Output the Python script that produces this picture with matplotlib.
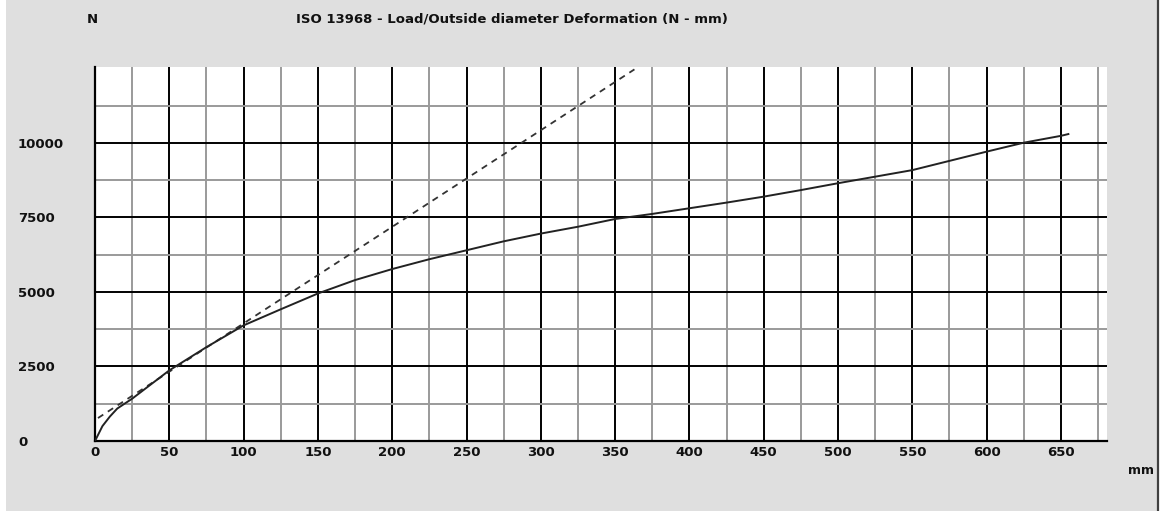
import matplotlib
matplotlib.use("Agg")
import matplotlib.pyplot as plt
from matplotlib.patches import Rectangle
from matplotlib.lines import Line2D
import numpy as np

"""Data read from the chart"""

title = "ISO 13968 - Load/Outside diameter Deformation (N - mm)"

# load / deformation curve (mm, N)
defo_mm = [0, 5, 10, 15, 25, 50, 75, 100, 125, 150, 175, 200, 225, 250, 275, 300,
           325, 350, 375, 400, 425, 450, 475, 500, 525, 550, 575, 600, 625, 650, 655]
load_n = [0, 500, 820, 1090, 1420, 2370, 3150, 3880, 4420, 4950, 5400, 5770, 6100,
          6400, 6700, 6960, 7190, 7450, 7620, 7810, 8000, 8200, 8420, 8650, 8870,
          9090, 9400, 9710, 10010, 10240, 10300]

# dashed tangent line
tan_mm = [2, 363]
tan_n = [770, 12470]

x_major = np.arange(0, 651, 50)
y_major = [0, 2500, 5000, 7500, 10000]

"""Plot"""

W, H = 1169, 511
fig = plt.figure(figsize=(W / 100, H / 100), dpi=100, facecolor="white")

# grey panel with dark right border
fig.add_artist(Rectangle((6 / W, 0), (1157 - 6) / W, 1, transform=fig.transFigure,
                         facecolor="#dfdfdf", edgecolor="none", zorder=0))
fig.add_artist(Line2D([1157.5 / W, 1157.5 / W], [0, 1], transform=fig.transFigure,
                      color="#404040", lw=1.6))

ax = fig.add_axes([95 / W, 1 - 441 / H, (1107 - 95) / W, (441 - 67) / H])
ax.set_facecolor("white")

ax.plot(tan_mm, tan_n, color="#333333", lw=1.3, dashes=(3.5, 3), zorder=4)
ax.plot(defo_mm, load_n, color="#222222", lw=1.4, zorder=5)

ax.set_xlim(0, 681)
ax.set_ylim(0, 12550)

ax.set_xticks(x_major)
ax.set_xticks(np.arange(25, 681, 50), minor=True)
ax.set_yticks(y_major)
ax.set_yticks([1250, 3750, 6250, 8750, 11250], minor=True)
ax.set_xticklabels([str(v) for v in x_major])
ax.set_yticklabels([str(v) for v in y_major])

ax.grid(which="major", color="black", lw=1.4, zorder=1)
ax.grid(which="minor", color="#9a9a9a", lw=1.4, zorder=1)
ax.set_axisbelow(True)

for s in ["top", "right"]:
    ax.spines[s].set_visible(False)
for s in ["left", "bottom"]:
    ax.spines[s].set_color("black")
    ax.spines[s].set_linewidth(1.6)

ax.tick_params(which="both", length=0)
ax.tick_params(axis="x", pad=3.5, labelsize=9.5)
ax.tick_params(axis="y", pad=(95 - 18) * 0.72, labelsize=9.5)
for lab in ax.get_xticklabels() + ax.get_yticklabels():
    lab.set_fontweight("bold")
    lab.set_color("#111111")
for lab in ax.get_yticklabels():
    lab.set_horizontalalignment("left")

fig.text(92 / W, 1 - 19 / H, "N", ha="center", va="center", fontsize=9.5,
         fontweight="bold", color="#111111")
fig.text(512 / W, 1 - 19 / H, title, ha="center", va="center", fontsize=9.5,
         fontweight="bold", color="#111111")
fig.text(1141 / W, 1 - 470 / H, "mm", ha="center", va="center", fontsize=9,
         fontweight="bold", color="#111111")

fig.savefig("out.png", dpi=100, facecolor=fig.get_facecolor())
